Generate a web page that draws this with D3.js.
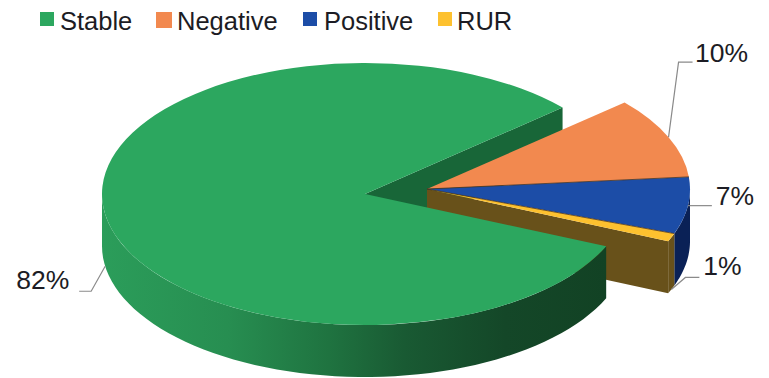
<!DOCTYPE html>
<html>
<head>
<meta charset="utf-8">
<script src="https://cdn.jsdelivr.net/npm/d3@7/dist/d3.min.js"></script>
<style>
  html, body { margin: 0; padding: 0; background: #fff; }
  text { font-family: "Liberation Sans", Arial, sans-serif; fill: #1c1c24; }
</style>
</head>
<body>
<svg id="chart" width="769" height="378"></svg>
<script>
// Outlook distribution
const categories = ["Stable", "Negative", "Positive", "RUR"];
const shares = [82, 10, 7, 1];
const topColors = ["#2ca75f", "#f2894f", "#1c4da7", "#fdc12f"];
const wallColors = ["#1a5f36", "#9c5530", "#0a2156", "#68511a"];

// Perspective of the tilted disc
const rx = 263, ry = 131, depth = 52;
const mainCentre = { x: 365, y: 194 };
const pulledCentre = { x: 427, y: 189 };
const rotation = 113.5 * Math.PI / 180;
const legendFont = 25.5, labelFont = 26.5;

const svg = d3.select("#chart");

const slices = d3.pie().sort(null)
  .startAngle(rotation).endAngle(rotation + 2 * Math.PI)(shares);

const arc = d3.arc().innerRadius(0).outerRadius(rx);
const rim = (c, a) => [c.x + rx * Math.sin(a), c.y - ry * Math.cos(a)];

// Shaded front wall of the main slice, darkening toward the right
const grad = svg.append("defs").append("linearGradient")
  .attr("id", "wall").attr("gradientUnits", "userSpaceOnUse")
  .attr("x1", mainCentre.x - rx).attr("x2", rim(mainCentre, slices[0].startAngle)[0])
  .attr("y1", 0).attr("y2", 0);
grad.selectAll("stop")
  .data([[0, "#2b9d5a"], [0.25, "#278e51"], [0.45, "#1f7340"], [0.6, "#195a33"], [0.8, "#144728"], [1, "#124224"]])
  .join("stop").attr("offset", d => d[0]).attr("stop-color", d => d[1]);

// Outer wall between two angles, limited to the half of the rim facing the viewer
function wallPath(c, a0, a1) {
  const lo = Math.max(a0, Math.PI / 2), hi = Math.min(a1, 3 * Math.PI / 2);
  if (hi <= lo) return null;
  const steps = d3.range(0, 61).map(i => lo + (hi - lo) * i / 60);
  const upper = steps.map(a => rim(c, a));
  const lower = steps.slice().reverse().map(a => { const p = rim(c, a); return [p[0], p[1] + depth]; });
  return d3.line()(upper.concat(lower)) + "Z";
}

// Flat cut face running from the centre out to the rim at one angle
function cutPath(c, a) {
  const p = rim(c, a);
  return d3.line()([[c.x, c.y], p, [p[0], p[1] + depth], [c.x, c.y + depth]]) + "Z";
}

const face = (d, c) => svg.append("path")
  .attr("d", arc(d))
  .attr("transform", `translate(${c.x},${c.y}) scale(1,${ry / rx})`)
  .attr("fill", topColors[d.index]);

// Far cut face of the main slice
svg.append("path").attr("d", cutPath(mainCentre, slices[0].endAngle)).attr("fill", "#186638");

// Pulled-out group: walls first, then the top faces
const pulled = slices.slice(1);
const last = pulled[pulled.length - 1];
svg.append("path").attr("d", cutPath(pulledCentre, last.endAngle)).attr("fill", "#68511a");
pulled.forEach(d => {
  const a0 = d.startAngle - 2 * Math.PI, a1 = d.endAngle - 2 * Math.PI;
  const w = wallPath(pulledCentre, a0, a1);
  if (w) svg.append("path").attr("d", w).attr("fill", wallColors[d.index]);
});
pulled.forEach(d => face(d, pulledCentre));

// Fine seams between the pulled-out slices
pulled.slice(0, -1).forEach(d => {
  const p = rim(pulledCentre, d.endAngle);
  svg.append("line")
    .attr("x1", pulledCentre.x).attr("y1", pulledCentre.y)
    .attr("x2", p[0]).attr("y2", p[1])
    .attr("stroke", "#4a3320").attr("stroke-width", 0.8);
});

// Main slice sits in front of the group
svg.append("path")
  .attr("d", wallPath(mainCentre, slices[0].startAngle, slices[0].endAngle))
  .attr("fill", "url(#wall)");
face(slices[0], mainCentre);

// Leader lines and percentage labels, offset from each slice's rim midpoint
const leaders = [
  { floor: true,  bend: [-14, 25], end: [-26, 25], label: [-89, 23] },
  { floor: false, bend: [10, -75], end: [24, -75], label: [26.5, -75] },
  { floor: false, bend: [24, 0],  end: [24, 0],  label: [28, -0.5] },
  { floor: true,  bend: [14, -12], end: [28, -12], label: [32, -14] }
];

slices.forEach((d, i) => {
  const mid = (d.startAngle + d.endAngle) / 2;
  const c = i === 0 ? mainCentre : pulledCentre;
  const p = rim(c, mid);
  const s = [p[0], p[1] + (leaders[i].floor ? depth : 0)];
  const L = leaders[i];
  svg.append("path")
    .attr("d", d3.line()([s, [s[0] + L.bend[0], s[1] + L.bend[1]], [s[0] + L.end[0], s[1] + L.end[1]]]))
    .attr("fill", "none").attr("stroke", "#8a8a8a").attr("stroke-width", 1.2);
  svg.append("text")
    .attr("x", s[0] + L.label[0]).attr("y", s[1] + L.label[1])
    .attr("font-size", labelFont)
    .text(d.data + "%");
});

// Legend along the top
const legendX = [40, 156, 303, 438];
const textX = [60, 177, 324, 457];
const legend = svg.selectAll("g.legend").data(categories).join("g").attr("class", "legend");
legend.append("rect")
  .attr("x", (d, i) => legendX[i]).attr("y", 12)
  .attr("width", (d, i) => i === 1 ? 16 : 14).attr("height", (d, i) => i === 1 ? 16 : 14)
  .attr("fill", (d, i) => topColors[i]);
legend.append("text")
  .attr("x", (d, i) => textX[i]).attr("y", 30)
  .attr("font-size", legendFont)
  .text(d => d);
</script>
</body>
</html>
